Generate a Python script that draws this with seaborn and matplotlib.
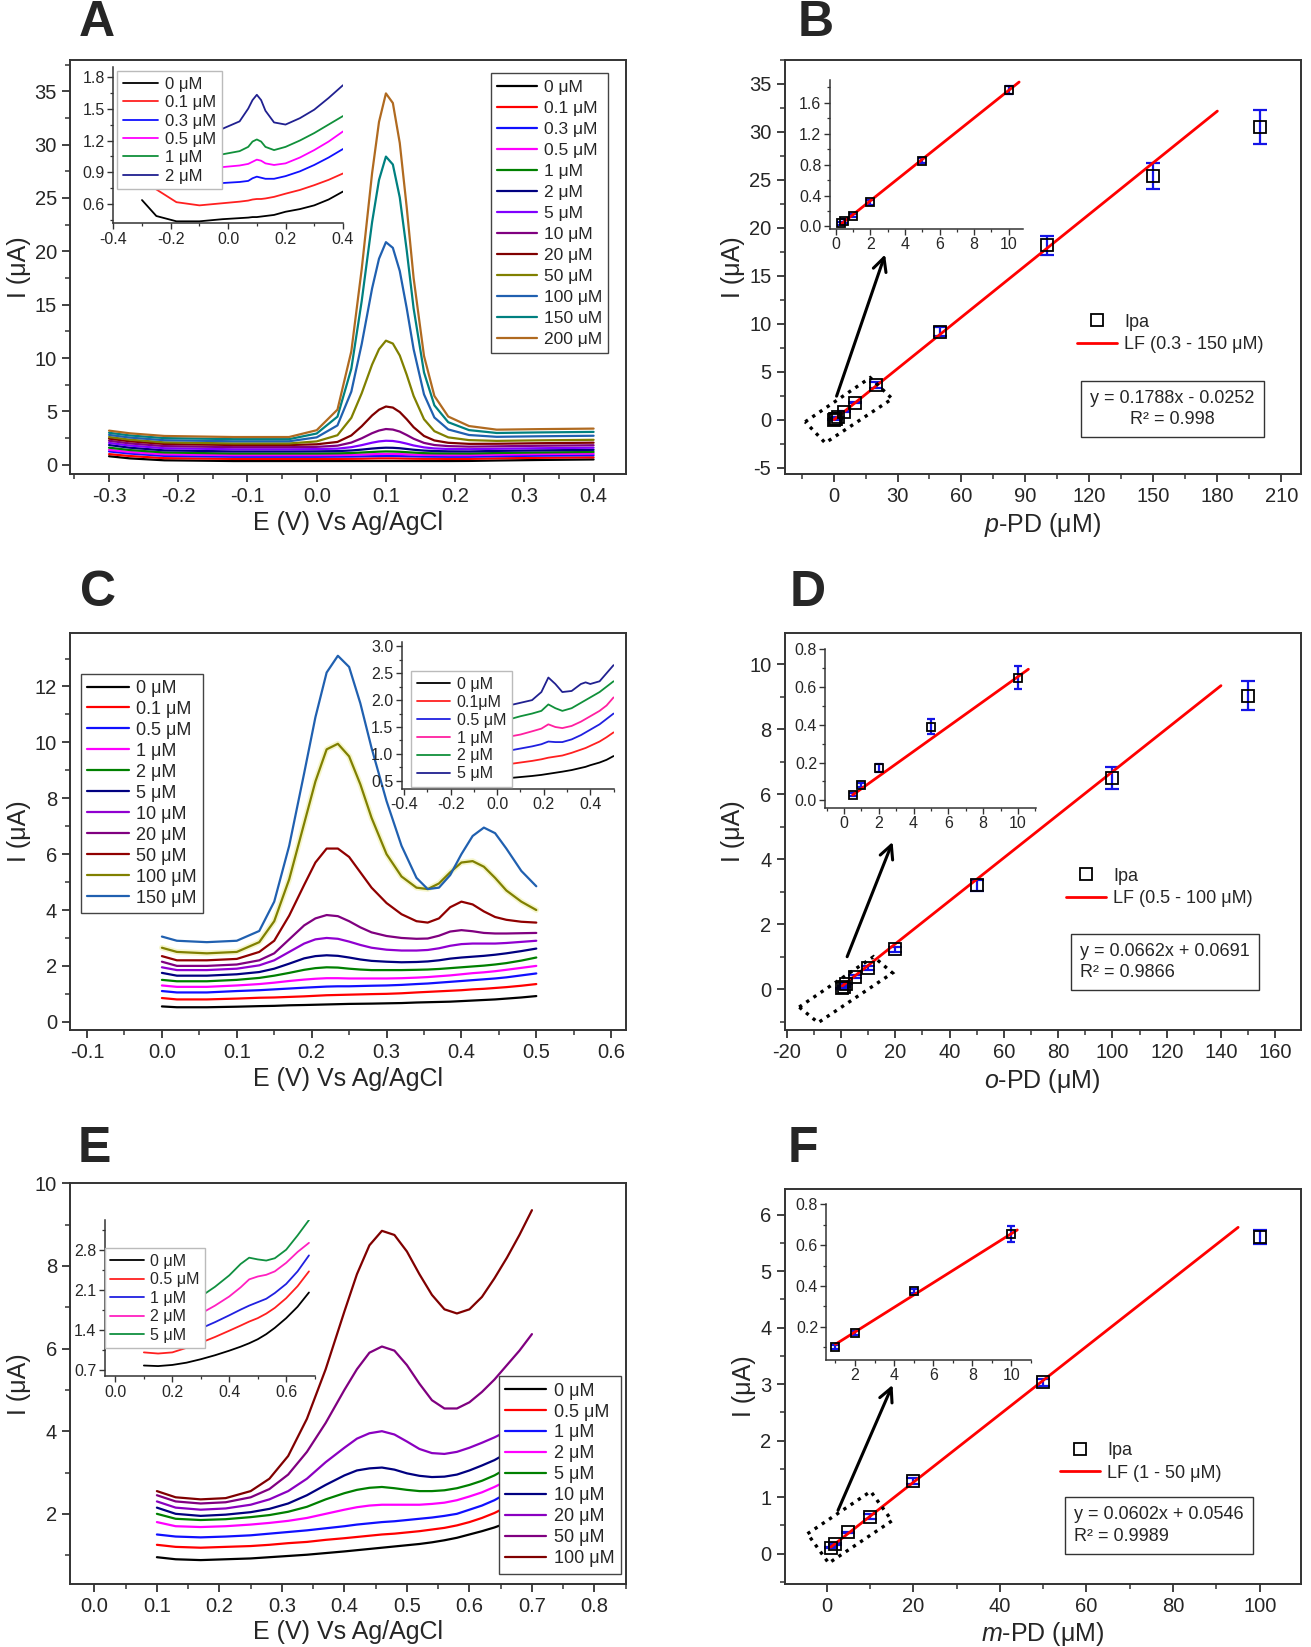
import numpy as np
import matplotlib
matplotlib.use("Agg")
import matplotlib.pyplot as plt
from matplotlib.lines import Line2D
from matplotlib.patches import Polygon
from matplotlib.ticker import MultipleLocator
import seaborn as sns

# ---------------- data ----------------
# Panel A: DPV of p-PD (main)
a_x = [-0.30, -0.27, -0.22, -0.12, -0.04, 0.0, 0.03, 0.05, 0.065, 0.08, 0.09, 0.10, 0.11, 0.12,
       0.13, 0.14, 0.155, 0.17, 0.19, 0.22, 0.26, 0.32, 0.40]
a_0 = [0.8, 0.6, 0.42, 0.35, 0.35, 0.35, 0.35, 0.35, 0.35, 0.35, 0.35, 0.35, 0.35, 0.35, 0.35, 0.35, 0.35, 0.35, 0.35, 0.36, 0.4, 0.45, 0.5]
a_01 = [1.0, 0.82, 0.62, 0.55, 0.55, 0.55, 0.55, 0.56, 0.57, 0.59, 0.6, 0.6, 0.6, 0.59, 0.58, 0.57, 0.56, 0.56, 0.55, 0.55, 0.6, 0.65, 0.7]
a_03 = [1.25, 1.05, 0.83, 0.75, 0.75, 0.75, 0.76, 0.77, 0.79, 0.81, 0.82, 0.83, 0.83, 0.82, 0.8, 0.79, 0.77, 0.76, 0.75, 0.75, 0.8, 0.85, 0.9]
a_05 = [1.4, 1.2, 0.98, 0.9, 0.9, 0.9, 0.91, 0.93, 0.96, 0.99, 1.01, 1.02, 1.02, 1.0, 0.98, 0.95, 0.93, 0.92, 0.9, 0.9, 0.95, 1.0, 1.05]
a_1 = [1.6, 1.38, 1.15, 1.05, 1.05, 1.05, 1.07, 1.1, 1.15, 1.2, 1.23, 1.25, 1.24, 1.22, 1.18, 1.14, 1.09, 1.07, 1.06, 1.05, 1.1, 1.15, 1.2]
a_2 = [1.85, 1.6, 1.35, 1.25, 1.25, 1.26, 1.28, 1.34, 1.42, 1.52, 1.57, 1.6, 1.59, 1.55, 1.48, 1.41, 1.33, 1.29, 1.26, 1.25, 1.3, 1.35, 1.4]
a_5 = [2.05, 1.8, 1.55, 1.45, 1.45, 1.47, 1.51, 1.65, 1.84, 2.07, 2.19, 2.25, 2.23, 2.13, 1.98, 1.81, 1.63, 1.53, 1.48, 1.46, 1.5, 1.55, 1.6]
a_10 = [2.25, 2.0, 1.75, 1.65, 1.65, 1.68, 1.79, 2.08, 2.48, 2.96, 3.21, 3.35, 3.3, 3.11, 2.79, 2.44, 2.05, 1.85, 1.75, 1.7, 1.73, 1.78, 1.83]
a_20 = [2.45, 2.2, 1.95, 1.85, 1.85, 1.92, 2.14, 2.75, 3.61, 4.62, 5.16, 5.46, 5.36, 4.94, 4.27, 3.52, 2.7, 2.28, 2.06, 1.96, 1.97, 2.02, 2.07]
a_50 = [2.6, 2.35, 2.1, 2.0, 2.0, 2.19, 2.77, 4.4, 6.7, 9.39, 10.83, 11.63, 11.36, 10.24, 8.44, 6.45, 4.27, 3.15, 2.57, 2.31, 2.24, 2.29, 2.34]
a_100 = [2.8, 2.55, 2.3, 2.2, 2.2, 2.57, 3.69, 6.85, 11.31, 16.52, 19.31, 20.86, 20.33, 18.16, 14.68, 10.83, 6.6, 4.43, 3.31, 2.79, 2.62, 2.67, 2.72]
a_150 = [3.0, 2.75, 2.5, 2.4, 2.4, 2.93, 4.51, 9.0, 15.34, 22.73, 26.69, 28.88, 28.14, 25.05, 20.11, 14.65, 8.66, 5.57, 3.99, 3.25, 2.98, 3.03, 3.08]
a_200 = [3.2, 2.95, 2.7, 2.6, 2.6, 3.24, 5.17, 10.63, 18.33, 27.32, 32.13, 34.8, 33.9, 30.15, 24.14, 17.5, 10.2, 6.45, 4.52, 3.63, 3.29, 3.34, 3.39]
a_labels = ["0 μM", "0.1 μM", "0.3 μM", "0.5 μM", "1 μM", "2 μM", "5 μM", "10 μM",
            "20 μM", "50 μM", "100 μM", "150 uM", "200 μM"]
a_colors = ["black", "#FF0000", "#1010FF", "#FF00FF", "#008000", "#000080", "#8000FF",
            "#800080", "#800000", "#808000", "#2060B0", "#008080", "#B06A20"]

# Panel A inset
ai_x = [-0.30, -0.25, -0.18, -0.10, -0.02, 0.04, 0.07, 0.085, 0.10, 0.115, 0.13, 0.16, 0.20, 0.25, 0.30, 0.35, 0.40]
ai_0 = [0.64, 0.49, 0.44, 0.44, 0.46, 0.47, 0.475, 0.48, 0.48, 0.485, 0.49, 0.50, 0.53, 0.555, 0.59, 0.645, 0.72]
ai_01 = [0.9, 0.74, 0.62, 0.59, 0.61, 0.625, 0.635, 0.645, 0.65, 0.65, 0.655, 0.67, 0.70, 0.735, 0.78, 0.83, 0.89]
ai_03 = [1.05, 0.92, 0.83, 0.80, 0.80, 0.81, 0.82, 0.845, 0.86, 0.85, 0.84, 0.84, 0.865, 0.91, 0.97, 1.04, 1.12]
ai_05 = [1.2, 1.06, 0.97, 0.94, 0.95, 0.965, 0.98, 1.0, 1.02, 1.01, 0.985, 0.97, 0.985, 1.04, 1.11, 1.19, 1.285]
ai_1 = [1.35, 1.2, 1.1, 1.07, 1.07, 1.1, 1.14, 1.19, 1.21, 1.19, 1.14, 1.11, 1.14, 1.2, 1.27, 1.35, 1.43]
ai_2 = [1.55, 1.42, 1.33, 1.3, 1.31, 1.38, 1.5, 1.58, 1.63, 1.58, 1.48, 1.37, 1.35, 1.41, 1.49, 1.6, 1.72]
ai_labels = ["0 μM", "0.1 μM", "0.3 μM", "0.5 μM", "1 μM", "2 μM"]
ai_colors = ["black", "#FF2020", "#1010FF", "#FF00FF", "#10903A", "#202090"]

# Panel B: calibration p-PD
b_conc = [0.3, 0.5, 1, 2, 5, 10, 20, 50, 100, 150, 200]
b_ipa = [0.04, 0.07, 0.14, 0.31, 0.85, 1.77, 3.6, 9.2, 18.2, 25.4, 30.5]
b_err = [0.02, 0.02, 0.02, 0.03, 0.03, 0.05, 0.3, 0.5, 1.0, 1.4, 1.8]
b_slope, b_icpt = 0.1788, -0.0252
b_fit_main = [0.3, 180]
b_fit_inset = [0.3, 10.6]

# Panel C: DPV of o-PD (main)
c_x = [0.0, 0.02, 0.06, 0.10, 0.13, 0.15, 0.17, 0.19, 0.205, 0.22, 0.235, 0.25, 0.265, 0.28,
       0.30, 0.32, 0.34, 0.355, 0.37, 0.385, 0.40, 0.415, 0.43, 0.445, 0.46, 0.48, 0.50]
c_0 = [0.55, 0.52, 0.52, 0.54, 0.56, 0.57, 0.59, 0.6, 0.61, 0.62, 0.63, 0.64, 0.645, 0.65, 0.66, 0.67, 0.69, 0.7, 0.71, 0.72, 0.74, 0.76, 0.78, 0.8, 0.83, 0.87, 0.92]
c_01 = [0.85, 0.8, 0.8, 0.83, 0.86, 0.87, 0.89, 0.91, 0.93, 0.95, 0.96, 0.97, 0.98, 0.99, 1.0, 1.02, 1.05, 1.07, 1.09, 1.11, 1.13, 1.16, 1.18, 1.21, 1.24, 1.29, 1.35]
c_05 = [1.1, 1.05, 1.05, 1.1, 1.13, 1.16, 1.19, 1.22, 1.24, 1.26, 1.27, 1.27, 1.28, 1.29, 1.3, 1.32, 1.35, 1.37, 1.4, 1.43, 1.46, 1.49, 1.52, 1.55, 1.59, 1.66, 1.73]
c_1 = [1.3, 1.25, 1.25, 1.3, 1.35, 1.4, 1.46, 1.51, 1.54, 1.56, 1.56, 1.55, 1.55, 1.55, 1.55, 1.56, 1.58, 1.6, 1.63, 1.66, 1.7, 1.74, 1.77, 1.81, 1.86, 1.93, 2.0]
c_2 = [1.5, 1.45, 1.45, 1.5, 1.57, 1.65, 1.75, 1.86, 1.92, 1.95, 1.94, 1.9, 1.87, 1.85, 1.85, 1.85, 1.86, 1.87, 1.89, 1.92, 1.95, 1.98, 2.01, 2.05, 2.1, 2.19, 2.3]
c_5 = [1.75, 1.65, 1.65, 1.7, 1.78, 1.9, 2.08, 2.27, 2.35, 2.38, 2.36, 2.3, 2.23, 2.18, 2.15, 2.13, 2.14, 2.16, 2.2, 2.26, 2.3, 2.33, 2.36, 2.4, 2.45, 2.53, 2.62]
c_10 = [1.95, 1.85, 1.85, 1.9, 2.02, 2.2, 2.5, 2.8, 2.95, 3.0, 2.97, 2.87, 2.75, 2.65, 2.58, 2.55, 2.55, 2.57, 2.63, 2.72, 2.78, 2.8, 2.8, 2.8, 2.82, 2.86, 2.9]
c_20 = [2.15, 2.0, 2.0, 2.05, 2.2, 2.45, 2.95, 3.45, 3.7, 3.82, 3.78, 3.6, 3.38, 3.2, 3.07, 3.0, 2.97, 2.98, 3.08, 3.23, 3.28, 3.24, 3.18, 3.16, 3.16, 3.17, 3.18]
c_50 = [2.35, 2.2, 2.2, 2.25, 2.5, 2.9, 3.8, 4.9, 5.7, 6.2, 6.2, 5.9, 5.35, 4.8, 4.25, 3.85, 3.6, 3.55, 3.7, 4.1, 4.3, 4.2, 3.95, 3.75, 3.65, 3.58, 3.55]
c_100 = [2.65, 2.5, 2.45, 2.5, 2.85, 3.6, 5.1, 7.1, 8.6, 9.75, 9.95, 9.5, 8.5, 7.3, 6.0, 5.2, 4.8, 4.75, 4.95, 5.35, 5.7, 5.75, 5.55, 5.15, 4.7, 4.3, 4.0]
c_150 = [3.05, 2.9, 2.85, 2.9, 3.25, 4.3, 6.3, 8.9, 10.9, 12.5, 13.1, 12.7, 11.4, 9.8, 7.9, 6.3, 5.15, 4.75, 4.8, 5.25, 6.0, 6.65, 6.95, 6.75, 6.2, 5.4, 4.85]
c_labels = ["0 μM", "0.1 μM", "0.5 μM", "1 μM", "2 μM", "5 μM", "10 μM", "20 μM",
            "50 μM", "100 μM", "150 μM"]
c_colors = ["black", "#FF0000", "#1010FF", "#FF00FF", "#008000", "#000080", "#9000D0",
            "#800080", "#900000", "#808000", "#2060B0"]

# Panel C inset
ci_x = [-0.30, -0.2, -0.1, 0.0, 0.1, 0.15, 0.19, 0.22, 0.25, 0.28, 0.32, 0.36, 0.38, 0.40, 0.44, 0.47, 0.50]
ci_0 = [0.45, 0.47, 0.5, 0.53, 0.57, 0.59, 0.61, 0.63, 0.65, 0.67, 0.7, 0.74, 0.76, 0.79, 0.84, 0.89, 0.96]
ci_01 = [0.7, 0.72, 0.75, 0.78, 0.84, 0.87, 0.9, 0.93, 0.95, 0.97, 1.02, 1.08, 1.11, 1.15, 1.23, 1.31, 1.4]
ci_05 = [0.9, 0.93, 0.97, 1.02, 1.1, 1.14, 1.18, 1.23, 1.22, 1.22, 1.27, 1.35, 1.4, 1.45, 1.55, 1.65, 1.75]
ci_1 = [1.15, 1.18, 1.22, 1.28, 1.36, 1.42, 1.47, 1.55, 1.5, 1.48, 1.52, 1.6, 1.65, 1.7, 1.8, 1.9, 2.05]
ci_2 = [1.4, 1.45, 1.5, 1.58, 1.7, 1.75, 1.8, 1.92, 1.85, 1.8, 1.85, 1.95, 2.0, 2.05, 2.15, 2.25, 2.35]
ci_5 = [1.6, 1.65, 1.75, 1.85, 1.95, 2.0, 2.15, 2.42, 2.3, 2.15, 2.17, 2.3, 2.33, 2.3, 2.35, 2.5, 2.65]
ci_labels = ["0 μM", "0.1μM", "0.5 μM", "1 μM", "2 μM", "5 μM"]
ci_colors = ["black", "#FF2020", "#2020E0", "#FF20A0", "#10903A", "#202090"]

# Panel D: calibration o-PD
d_conc = [0.5, 1, 2, 5, 10, 20, 50, 100, 150]
d_ipa = [0.03, 0.08, 0.17, 0.39, 0.65, 1.23, 3.2, 6.5, 9.03]
d_err = [0.01, 0.01, 0.02, 0.04, 0.06, 0.08, 0.17, 0.35, 0.45]
d_slope, d_icpt = 0.0662, 0.0691
d_in_slope, d_in_icpt = 0.066, -0.005
d_fit_main = [0.5, 140]
d_fit_inset = [0.5, 10.6]

# Panel E: DPV of m-PD (main)
e_x = [0.10, 0.13, 0.17, 0.21, 0.25, 0.28, 0.31, 0.34, 0.37, 0.40, 0.42, 0.44, 0.46, 0.48,
       0.50, 0.52, 0.54, 0.56, 0.58, 0.60, 0.62, 0.64, 0.66, 0.68, 0.70]
e_0 = [0.95, 0.9, 0.88, 0.9, 0.92, 0.95, 0.98, 1.01, 1.05, 1.09, 1.12, 1.15, 1.18, 1.21, 1.24, 1.27, 1.31, 1.36, 1.42, 1.5, 1.58, 1.67, 1.78, 1.92, 2.1]
e_05 = [1.25, 1.2, 1.18, 1.2, 1.22, 1.25, 1.29, 1.32, 1.37, 1.41, 1.44, 1.47, 1.5, 1.52, 1.55, 1.58, 1.62, 1.66, 1.72, 1.8, 1.9, 2.02, 2.17, 2.35, 2.55]
e_1 = [1.5, 1.45, 1.43, 1.45, 1.48, 1.52, 1.56, 1.6, 1.65, 1.7, 1.74, 1.77, 1.8, 1.82, 1.85, 1.88, 1.91, 1.95, 2.0, 2.1, 2.2, 2.33, 2.5, 2.7, 2.9]
e_2 = [1.8, 1.7, 1.68, 1.7, 1.74, 1.78, 1.83, 1.9, 2.0, 2.1, 2.16, 2.2, 2.22, 2.22, 2.22, 2.22, 2.24, 2.27, 2.33, 2.42, 2.52, 2.65, 2.8, 3.0, 3.25]
e_5 = [2.0, 1.88, 1.85, 1.87, 1.92, 1.97, 2.05, 2.17, 2.35, 2.5, 2.58, 2.63, 2.65, 2.62, 2.58, 2.55, 2.55, 2.57, 2.62, 2.7, 2.8, 2.93, 3.1, 3.3, 3.5]
e_10 = [2.15, 2.0, 1.95, 1.98, 2.04, 2.12, 2.25, 2.45, 2.7, 2.93, 3.05, 3.1, 3.12, 3.07, 2.98, 2.92, 2.89, 2.9, 2.95, 3.05, 3.17, 3.3, 3.47, 3.65, 3.85]
e_20 = [2.3, 2.15, 2.1, 2.13, 2.22, 2.35, 2.55, 2.85, 3.25, 3.6, 3.82, 3.95, 4.0, 3.92, 3.75, 3.57, 3.47, 3.45, 3.5, 3.6, 3.72, 3.85, 4.0, 4.17, 4.35]
e_50 = [2.45, 2.3, 2.25, 2.28, 2.4, 2.6, 2.95, 3.5, 4.2, 5.0, 5.5, 5.9, 6.05, 5.95, 5.6, 5.15, 4.75, 4.55, 4.55, 4.7, 4.95, 5.25, 5.6, 5.95, 6.35]
e_100 = [2.55, 2.4, 2.35, 2.38, 2.55, 2.85, 3.4, 4.3, 5.5, 6.9, 7.8, 8.5, 8.85, 8.75, 8.35, 7.8, 7.3, 6.95, 6.85, 6.95, 7.25, 7.7, 8.2, 8.75, 9.35]
e_labels = ["0 μM", "0.5 μM", "1 μM", "2 μM", "5 μM", "10 μM", "20 μM", "50 μM", "100 μM"]
e_colors = ["black", "#FF0000", "#1010FF", "#FF00FF", "#008000", "#000080", "#8A00C0",
            "#800080", "#800000"]

# Panel E inset
ei_x = [0.10, 0.15, 0.20, 0.25, 0.30, 0.35, 0.40, 0.44, 0.47, 0.50, 0.53, 0.56, 0.60, 0.64, 0.68]
ei_0 = [0.77, 0.76, 0.78, 0.82, 0.88, 0.95, 1.03, 1.1, 1.16, 1.23, 1.32, 1.43, 1.6, 1.8, 2.05]
ei_05 = [1.0, 0.98, 1.0, 1.08, 1.17, 1.27, 1.38, 1.47, 1.54, 1.6, 1.68, 1.78, 1.95, 2.16, 2.42]
ei_1 = [1.22, 1.2, 1.23, 1.31, 1.42, 1.53, 1.65, 1.75, 1.82, 1.88, 1.94, 2.04, 2.2, 2.42, 2.7]
ei_2 = [1.45, 1.43, 1.47, 1.55, 1.68, 1.82, 1.98, 2.14, 2.28, 2.33, 2.36, 2.42, 2.57, 2.76, 2.92]
ei_5 = [1.7, 1.68, 1.73, 1.82, 1.98, 2.15, 2.35, 2.55, 2.66, 2.63, 2.61, 2.65, 2.8, 3.05, 3.32]
ei_labels = ["0 μM", "0.5 μM", "1 μM", "2 μM", "5 μM"]
ei_colors = ["black", "#FF2020", "#2020E0", "#FF20C0", "#109040"]

# Panel F: calibration m-PD
f_conc = [1, 2, 5, 10, 20, 50, 100]
f_ipa = [0.1, 0.17, 0.375, 0.655, 1.28, 3.03, 5.6]
f_err = [0.01, 0.01, 0.01, 0.04, 0.05, 0.06, 0.12]
f_slope, f_icpt = 0.0602, 0.0546
f_fit_main = [1, 95]
f_fit_inset = [1, 10.3]

# ---------------- style ----------------
sns.set_theme(style="ticks")
plt.rcParams['font.family'] = ['Liberation Sans', 'DejaVu Sans']
plt.rcParams['mathtext.fontset'] = 'custom'
plt.rcParams['mathtext.it'] = 'Liberation Sans:italic'
plt.rcParams['mathtext.rm'] = 'Liberation Sans'
plt.rcParams['axes.unicode_minus'] = False
plt.rcParams['axes.edgecolor'] = '#333333'
plt.rcParams['axes.linewidth'] = 1.4

TICK = 14.5
LAB = 18
ERR_BLUE = "#1414E6"

fig = plt.figure(figsize=(13.11, 16.47), dpi=100)
W, H = 1250.0, 1570.0


def box(l, t, r, b):
    return [l / W, 1 - b / H, (r - l) / W, (b - t) / H]


def style_main(ax, xmaj, xmin, ymaj, ymin):
    ax.xaxis.set_major_locator(MultipleLocator(xmaj))
    ax.xaxis.set_minor_locator(MultipleLocator(xmin))
    ax.yaxis.set_major_locator(MultipleLocator(ymaj))
    ax.yaxis.set_minor_locator(MultipleLocator(ymin))
    ax.tick_params(which='major', direction='out', length=6, width=1.3,
                   labelsize=TICK, top=False, right=False, color='#333333')
    ax.tick_params(which='minor', direction='out', length=3.5, width=1.1,
                   top=False, right=False, color='#333333')
    for s in ax.spines.values():
        s.set_linewidth(1.4)


def style_inset(ax, xmaj, xmin, ymaj, ymin, fs=11.5):
    ax.set_facecolor('none')
    ax.spines['top'].set_visible(False)
    ax.spines['right'].set_visible(False)
    ax.xaxis.set_major_locator(MultipleLocator(xmaj))
    ax.xaxis.set_minor_locator(MultipleLocator(xmin))
    ax.yaxis.set_major_locator(MultipleLocator(ymaj))
    ax.yaxis.set_minor_locator(MultipleLocator(ymin))
    ax.tick_params(which='major', direction='out', length=4, width=1.0,
                   labelsize=fs, pad=2, color='#333333')
    ax.tick_params(which='minor', direction='out', length=2.2, width=0.9, color='#333333')
    for s in ax.spines.values():
        s.set_linewidth(1.1)


def draw_curves(ax, x, curves, colors, lw, glow=None):
    handles = []
    for i, (y, c) in enumerate(zip(curves, colors)):
        if glow is not None and i == glow:
            sns.lineplot(x=x, y=y, color='#F6F6CC', lw=lw + 2.5, ax=ax, sort=False, estimator=None)
        sns.lineplot(x=x, y=y, color=c, lw=lw, ax=ax, sort=False, estimator=None)
        handles.append(ax.lines[-1])
    return handles


def curve_legend(ax, handles, labels, fs, anchor, loc, edge, spacing, hl):
    leg = ax.legend(handles, labels, loc=loc, bbox_to_anchor=anchor, fontsize=fs,
                    frameon=True, fancybox=False, edgecolor=edge, framealpha=1,
                    handlelength=hl, handletextpad=0.4, labelspacing=spacing,
                    borderpad=0.35, borderaxespad=0)
    leg.get_frame().set_linewidth(1.0)
    return leg


def calib(ax, conc, ipa, err, slope, icpt, rng, ms=8, cap=5):
    xs = np.array(rng)
    sns.lineplot(x=xs, y=slope * xs + icpt, color='#FF0000', lw=2, ax=ax, zorder=4)
    ax.errorbar(conc, ipa, yerr=err, fmt='none', ecolor=ERR_BLUE, elinewidth=1.6,
                capsize=cap, capthick=1.6, zorder=3)
    ax.plot(conc, ipa, 's', mfc='none', mec='black', ms=ms, mew=1.3, zorder=5)


def calib_legend(ax, label, anchor):
    h = [Line2D([], [], marker='s', ls='none', mfc='none', mec='black', ms=9, mew=1.3),
         Line2D([], [], color='#FF0000', lw=2)]
    ax.legend(h, ["Ipa", label], loc='upper left', bbox_to_anchor=anchor, frameon=False,
              fontsize=13, handlelength=2.2, handletextpad=0.4, labelspacing=0.3,
              borderaxespad=0)


def eq_box(ax, text, xy, ha='center'):
    ax.text(xy[0], xy[1], text, transform=ax.transAxes, ha='center', va='center',
            fontsize=13, multialignment=ha, linespacing=1.35,
            bbox=dict(boxstyle='square,pad=0.5', fc='white', ec='#333333', lw=1.0))


def zoom_marks(ax, corners, tail, head):
    ax.add_patch(Polygon(corners, closed=True, fill=False, ec='black', lw=2.4,
                         ls=(0, (1, 1.6)), zorder=6))
    ax.annotate('', xy=head, xytext=tail,
                arrowprops=dict(arrowstyle='->', color='black', lw=2.2, mutation_scale=24),
                zorder=6)


# ---------------- Panel A ----------------
axA = fig.add_axes(box(67, 57, 597, 452))
hA = draw_curves(axA, a_x, [a_0, a_01, a_03, a_05, a_1, a_2, a_5, a_10, a_20, a_50,
                            a_100, a_150, a_200], a_colors, 1.6)
axA.set_xlim(-0.356, 0.447)
axA.set_ylim(-0.88, 37.95)
style_main(axA, 0.1, 0.05, 5, 2.5)
axA.set_xlabel("E (V) Vs Ag/AgCl", fontsize=LAB, labelpad=3)
axA.set_ylabel("I (μA)", fontsize=LAB, labelpad=3)
curve_legend(axA, hA, a_labels, 12.5, (0.968, 0.967), 'upper right', '#444444', 0.34, 2.3)

axAi = fig.add_axes(box(108, 64, 327, 213))
hAi = draw_curves(axAi, ai_x, [ai_0, ai_01, ai_03, ai_05, ai_1, ai_2], ai_colors, 1.3)
axAi.set_xlim(-0.4, 0.4)
axAi.set_ylim(0.42, 1.89)
style_inset(axAi, 0.2, 0.1, 0.3, 0.15)
axAi.set_xlabel("")
axAi.set_ylabel("")
curve_legend(axAi, hAi, ai_labels, 12, (0.018, 0.975), 'upper left', '#BBBBBB', 0.2, 2.1)

# ---------------- Panel B ----------------
axB = fig.add_axes(box(748, 57, 1240, 452))
calib(axB, b_conc, b_ipa, b_err, b_slope, b_icpt, b_fit_main)
axB.set_xlim(-23, 219)
axB.set_ylim(-5.65, 37.5)
style_main(axB, 30, 15, 5, 2.5)
axB.set_xlabel(r"$\mathit{p}$-PD (μM)", fontsize=LAB, labelpad=3)
axB.set_ylabel("I (μA)", fontsize=LAB, labelpad=3)
calib_legend(axB, "LF (0.3 - 150 μM)", (0.553, 0.405))
eq_box(axB, "y = 0.1788x - 0.0252\nR² = 0.998", (0.752, 0.157))
zoom_marks(axB, [(-13.3, -0.2), (17.2, 4.4), (27.5, 2.2), (-3.9, -2.4)], (1.0, 2.2), (24.6, 17.5))

axBi = fig.add_axes(box(791, 76, 975, 218))
calib(axBi, b_conc[:6], b_ipa[:6], b_err[:6], b_slope, b_icpt, b_fit_inset, ms=6, cap=3)
axBi.set_xlim(-0.36, 10.8)
axBi.set_ylim(-0.03, 1.9)
style_inset(axBi, 2, 1, 0.4, 0.2)

# ---------------- Panel C ----------------
axC = fig.add_axes(box(67, 603, 597, 982))
hC = draw_curves(axC, c_x, [c_0, c_01, c_05, c_1, c_2, c_5, c_10, c_20, c_50, c_100, c_150],
                 c_colors, 1.6, glow=9)
axC.set_xlim(-0.1224, 0.62)
axC.set_ylim(-0.3, 13.93)
style_main(axC, 0.1, 0.05, 2, 1)
axC.set_xlabel("E (V) Vs Ag/AgCl", fontsize=LAB, labelpad=3)
axC.set_ylabel("I (μA)", fontsize=LAB, labelpad=3)
curve_legend(axC, hC, c_labels, 13, (0.019, 0.897), 'upper left', '#444444', 0.22, 2.3)

axCi = fig.add_axes(box(383, 612, 585, 752))
hCi = draw_curves(axCi, ci_x, [ci_0, ci_01, ci_05, ci_1, ci_2, ci_5], ci_colors, 1.3)
axCi.set_xlim(-0.41, 0.5)
axCi.set_ylim(0.35, 3.08)
style_inset(axCi, 0.2, 0.1, 0.5, 0.25)
curve_legend(axCi, hCi, ci_labels, 11.5, (0.045, 0.8), 'upper left', '#BBBBBB', 0.18, 2.1)

# ---------------- Panel D ----------------
axD = fig.add_axes(box(748, 603, 1240, 982))
calib(axD, d_conc, d_ipa, d_err, d_slope, d_icpt, d_fit_main)
axD.set_xlim(-20.8, 169.3)
axD.set_ylim(-1.26, 10.97)
style_main(axD, 20, 10, 2, 1)
axD.set_xlabel(r"$\mathit{o}$-PD (μM)", fontsize=LAB, labelpad=3)
axD.set_ylabel("I (μA)", fontsize=LAB, labelpad=3)
calib_legend(axD, "LF (0.5 - 100 μM)", (0.532, 0.427))
eq_box(axD, "y = 0.0662x + 0.0691\nR² = 0.9866", (0.738, 0.1715), ha='left')
zoom_marks(axD, [(-15.4, -0.55), (12.0, 1.0), (19.0, 0.5), (-8.4, -1.03)], (1.9, 0.92), (19.4, 4.61))

axDi = fig.add_axes(box(787, 619, 988, 770))
calib(axDi, d_conc[:5], d_ipa[:5], d_err[:5], d_in_slope, d_in_icpt, d_fit_inset, ms=6, cap=3)
axDi.set_xlim(-1.07, 11.05)
axDi.set_ylim(-0.04, 0.8)
style_inset(axDi, 2, 1, 0.2, 0.1)

# ---------------- Panel E ----------------
axE = fig.add_axes(box(67, 1128, 597, 1510))
hE = draw_curves(axE, e_x, [e_0, e_05, e_1, e_2, e_5, e_10, e_20, e_50, e_100], e_colors, 1.6)
axE.set_xlim(-0.0386, 0.8507)
axE.set_ylim(0.3, 10.0)
style_main(axE, 0.1, 0.05, 2, 1)
axE.set_xlabel("E (V) Vs Ag/AgCl", fontsize=LAB, labelpad=3)
axE.set_ylabel("I (μA)", fontsize=LAB, labelpad=3)
curve_legend(axE, hE, e_labels, 13, (0.99, 0.026), 'lower right', '#444444', 0.22, 2.3)

axEi = fig.add_axes(box(100, 1163, 300, 1312))
hEi = draw_curves(axEi, ei_x, [ei_0, ei_05, ei_1, ei_2, ei_5], ei_colors, 1.3)
axEi.set_xlim(-0.037, 0.70)
axEi.set_ylim(0.58, 3.32)
style_inset(axEi, 0.2, 0.1, 0.7, 0.35)
curve_legend(axEi, hEi, ei_labels, 11.5, (0.0, 0.82), 'upper left', '#BBBBBB', 0.22, 2.1)

# ---------------- Panel F ----------------
axF = fig.add_axes(box(748, 1133, 1240, 1510))
calib(axF, f_conc, f_ipa, f_err, f_slope, f_icpt, f_fit_main)
axF.set_xlim(-9.7, 109.4)
axF.set_ylim(-0.54, 6.46)
style_main(axF, 20, 10, 1, 0.5)
axF.set_xlabel(r"$\mathit{m}$-PD (μM)", fontsize=LAB, labelpad=3)
axF.set_ylabel("I (μA)", fontsize=LAB, labelpad=3)
calib_legend(axF, "LF (1 - 50 μM)", (0.52, 0.377))
eq_box(axF, "y = 0.0602x + 0.0546\nR² = 0.9989", (0.7256, 0.1485), ha='left')
zoom_marks(axF, [(-4.4, 0.35), (10.2, 1.1), (15.1, 0.58), (0.5, -0.17)], (2.4, 0.72), (15.5, 3.03))

axFi = fig.add_axes(box(788, 1148, 983, 1296))
calib(axFi, f_conc[:4], f_ipa[:4], f_err[:4], f_slope, f_icpt, f_fit_inset, ms=6, cap=3)
axFi.set_xlim(0.54, 11.0)
axFi.set_ylim(0.04, 0.8)
style_inset(axFi, 2, 1, 0.2, 0.1)

# ---------------- panel letters ----------------
for letter, (px, py) in zip("ABCDEF", [(92, 22), (778, 22), (93, 565), (770, 565),
                                      (90, 1095), (766, 1095)]):
    fig.text(px / W, 1 - py / H, letter, fontsize=36, fontweight='bold',
             ha='center', va='center', family=['Liberation Sans', 'DejaVu Sans'])

fig.savefig("out.png", dpi=100, facecolor='white')
